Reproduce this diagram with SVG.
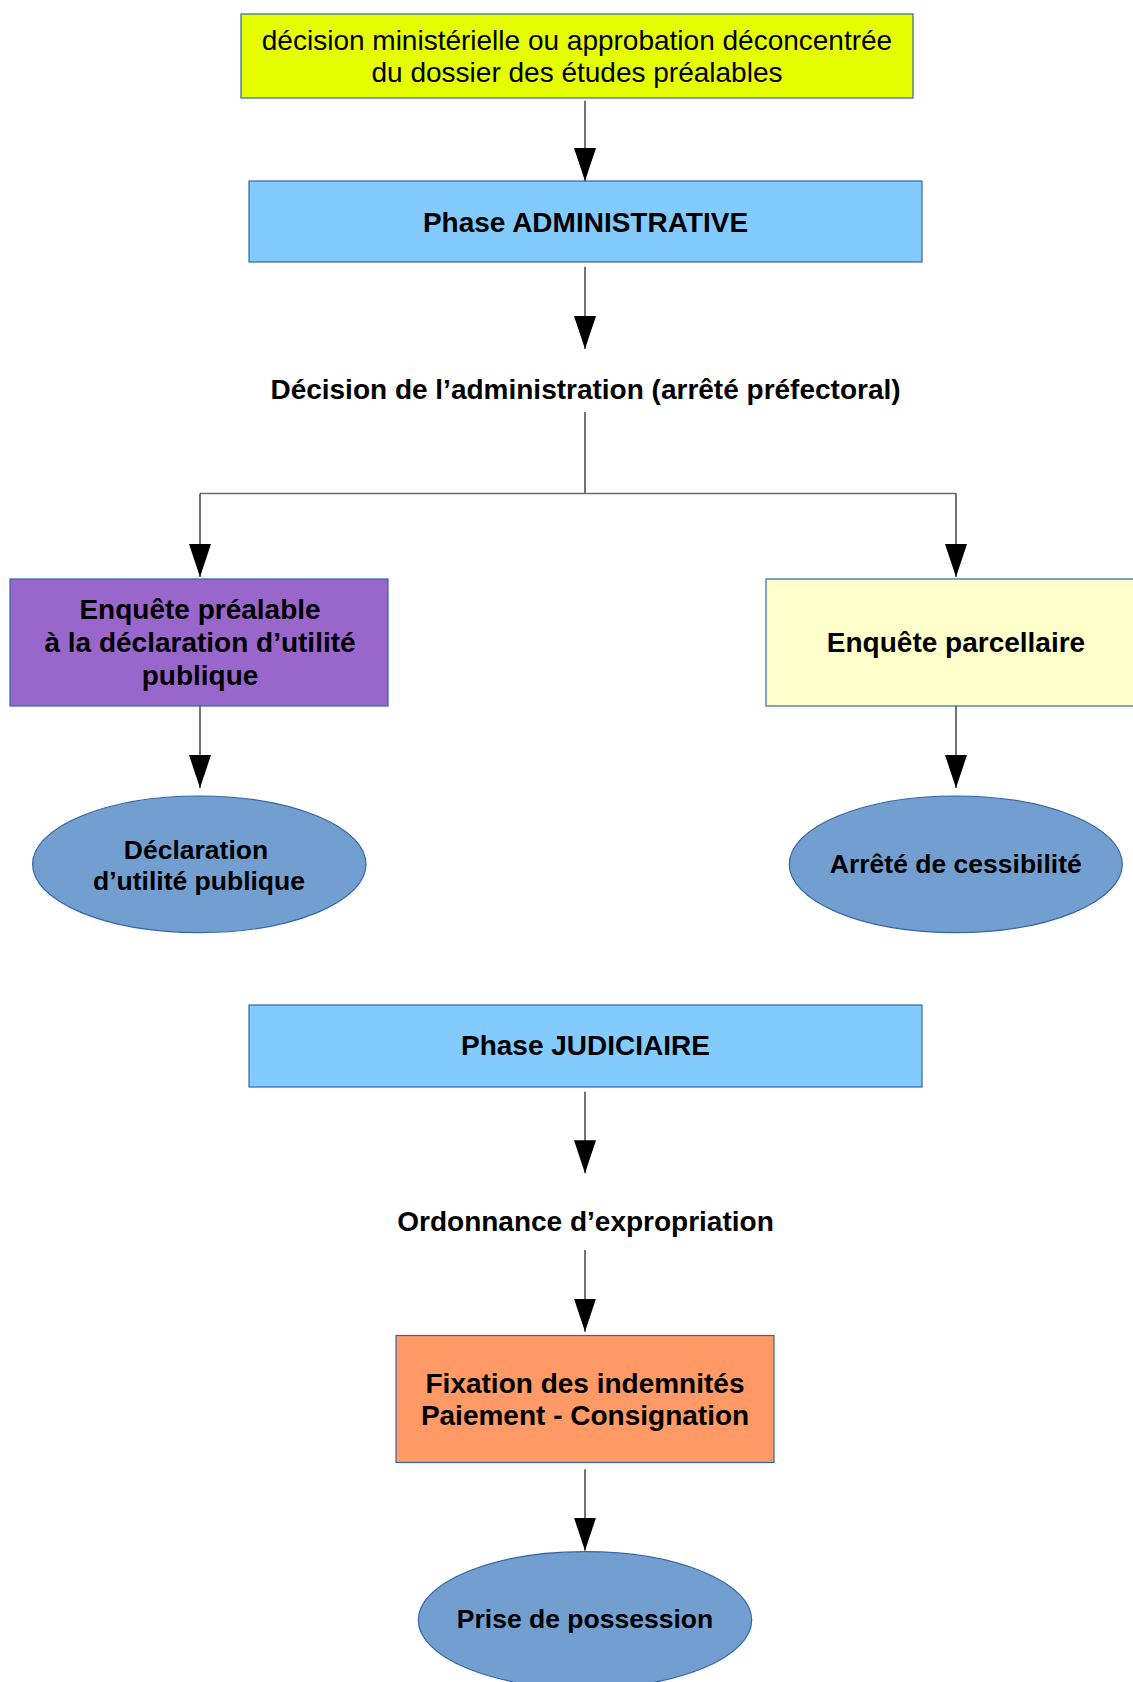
<svg xmlns="http://www.w3.org/2000/svg" width="1133" height="1682" viewBox="0 0 1133 1682">
<style>
.box{stroke:#3465a4;stroke-width:1.2}
.t{font-family:"Liberation Sans",Arial,sans-serif;font-size:28px;fill:#000;text-anchor:middle}
.b{font-weight:bold}
.e{font-size:26.5px}
.c{fill:none;stroke:#000;stroke-width:1.1}
.h{fill:none;stroke:#6e6e6e;stroke-width:1.6}
</style>
<defs>
<marker id="ah" viewBox="0 0 33 22" refX="33" refY="11" markerWidth="33" markerHeight="22" markerUnits="userSpaceOnUse" orient="auto">
<path d="M0,0 L33,11 L0,22 Z" fill="#000"/>
</marker>
</defs>
<rect width="1133" height="1682" fill="#fff"/>
<g id="connectors">
<path class="c" d="M585,100.7 V181" marker-end="url(#ah)"/>
<path class="c" d="M585,266.7 V349" marker-end="url(#ah)"/>
<path class="c" d="M585,412 V493.5"/>
<path class="h" d="M585,493.5 H200"/>
<path class="h" d="M585,493.5 H956"/>
<path class="c" d="M200,493.5 V577" marker-end="url(#ah)"/>
<path class="c" d="M956,493.5 V577" marker-end="url(#ah)"/>
<path class="c" d="M200,706 V788" marker-end="url(#ah)"/>
<path class="c" d="M956,706 V788" marker-end="url(#ah)"/>
<path class="c" d="M585,1091.7 V1173.3" marker-end="url(#ah)"/>
<path class="c" d="M585,1250 V1331.7" marker-end="url(#ah)"/>
<path class="c" d="M585,1469.3 V1550.7" marker-end="url(#ah)"/>
</g>
<g id="decision">
<rect class="box" x="241" y="14" width="672" height="84" fill="#e6ff00"/>
<text class="t" x="577" y="50">décision ministérielle ou approbation déconcentrée</text>
<text class="t" x="577" y="82">du dossier des études préalables</text>
</g>
<g id="phase-admin">
<rect class="box" x="249" y="181" width="673" height="81" fill="#83caff"/>
<text class="t b" x="585.5" y="231.5">Phase ADMINISTRATIVE</text>
</g>
<g id="arrete-prefectoral">
<text class="t b" x="585.5" y="398.5">Décision de l’administration (arrêté préfectoral)</text>
</g>
<g id="enquete-prealable">
<rect class="box" x="10" y="579" width="378" height="127" fill="#9966cc"/>
<text class="t b" x="200" y="619">Enquête préalable</text>
<text class="t b" x="200" y="652">à la déclaration d’utilité</text>
<text class="t b" x="200" y="684.5">publique</text>
</g>
<g id="enquete-parcellaire">
<rect class="box" x="766" y="579" width="380" height="127" fill="#ffffcc"/>
<text class="t b" x="956" y="651.7">Enquête parcellaire</text>
</g>
<g id="dup">
<ellipse class="box" cx="199.3" cy="864.3" rx="166.7" ry="68.3" fill="#729fcf"/>
<text class="t b e" x="196" y="859">Déclaration</text>
<text class="t b e" x="199" y="890">d’utilité publique</text>
</g>
<g id="cessibilite">
<ellipse class="box" cx="955.8" cy="864.3" rx="166.5" ry="68.3" fill="#729fcf"/>
<text class="t b e" x="955.8" y="873.3">Arrêté de cessibilité</text>
</g>
<g id="phase-judiciaire">
<rect class="box" x="249" y="1005" width="673" height="82" fill="#83caff"/>
<text class="t b" x="585.5" y="1055">Phase JUDICIAIRE</text>
</g>
<g id="ordonnance">
<text class="t b" x="585.5" y="1230.5">Ordonnance d’expropriation</text>
</g>
<g id="fixation">
<rect class="box" x="396" y="1335.5" width="378" height="127" fill="#ff9966"/>
<text class="t b" x="585" y="1392.7">Fixation des indemnités</text>
<text class="t b" x="585" y="1425">Paiement - Consignation</text>
</g>
<g id="possession">
<ellipse class="box" cx="585" cy="1620" rx="166.7" ry="68.3" fill="#729fcf"/>
<text class="t b e" x="585" y="1628.3">Prise de possession</text>
</g>
</svg>
